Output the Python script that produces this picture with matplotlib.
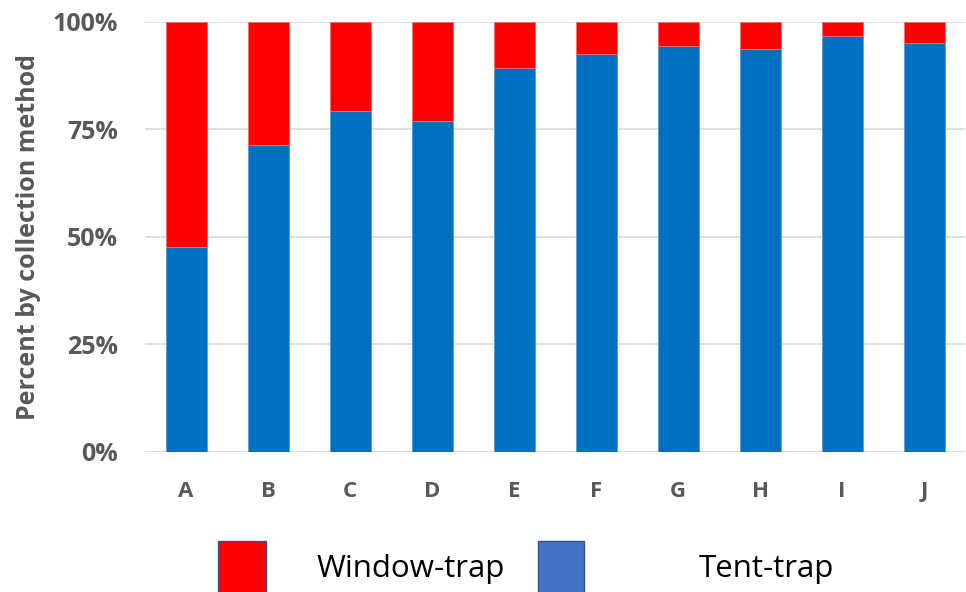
import matplotlib.pyplot as plt
from matplotlib.patches import Patch
from matplotlib.ticker import PercentFormatter

sites = ['A', 'B', 'C', 'D', 'E', 'F', 'G', 'H', 'I', 'J']
tent_pct = [47.7, 71.3, 79.2, 76.9, 89.3, 92.4, 94.3, 93.6, 96.6, 95.0]
window_pct = [100 - t for t in tent_pct]

plt.rcParams['font.family'] = ['Open Sans', 'DejaVu Sans']

fig = plt.figure(figsize=(9.66, 5.92), dpi=100)
ax = fig.add_axes([145 / 966, 1 - 451.7 / 592, 820 / 966, 430 / 592])

x = range(len(sites))
ax.bar(x, tent_pct, width=0.5, color='#0070C0', edgecolor='#5B9BD5',
       linewidth=0.6, zorder=3)
ax.bar(x, window_pct, width=0.5, bottom=tent_pct, color='#FF0000',
       edgecolor='#FF6B6B', linewidth=0.6, zorder=3)

ax.set_xlim(-0.5, len(sites) - 0.5)
ax.set_ylim(0, 100)
ax.set_yticks([0, 25, 50, 75, 100])
ax.yaxis.set_major_formatter(PercentFormatter(decimals=0))
ax.set_xticks(list(x))
ax.set_xticklabels(sites)
ax.grid(axis='y', color='#D9D9D9', linewidth=1.2, zorder=0)
for s in ax.spines.values():
    s.set_visible(False)
ax.tick_params(axis='y', length=0, pad=19.5, labelsize=18, labelcolor='#595959')
ax.tick_params(axis='x', length=0, pad=21, labelsize=16, labelcolor='#595959')
for lbl in ax.get_xticklabels() + ax.get_yticklabels():
    lbl.set_fontweight('bold')

ax.set_ylabel('Percent by collection method', fontsize=18, fontweight='bold',
              color='#595959', labelpad=8)

# legend entries drawn as two separate pieces, like the source image
win = Patch(facecolor='#FF0000', edgecolor='#2F5597', linewidth=1)
tent = Patch(facecolor='#4472C4', edgecolor='#2F5597', linewidth=1)
fig.legend([win], ['Window-trap'], loc='center left',
           bbox_to_anchor=(218 / 966, 0.042), frameon=False,
           fontsize=22.5, handlelength=1.54, handleheight=2.2,
           handletextpad=1.6, borderpad=0, borderaxespad=0)
fig.legend([tent], ['Tent-trap'], loc='center left',
           bbox_to_anchor=(538 / 966, 0.042), frameon=False,
           fontsize=22.5, handlelength=1.48, handleheight=2.2,
           handletextpad=3.65, borderpad=0, borderaxespad=0)

fig.savefig('out.png', dpi=100)
